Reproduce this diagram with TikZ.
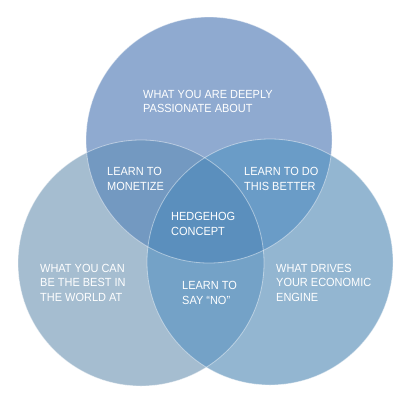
\documentclass[tikz,border=0pt]{standalone}
\usepackage{fontspec}
\setmainfont{Liberation Sans}[FakeStretch=0.93]
\definecolor{cTop}{HTML}{8FAAD0}
\definecolor{cLeft}{HTML}{A5BDD0}
\definecolor{cRight}{HTML}{93B6D1}
\definecolor{cTL}{HTML}{7399C1}
\definecolor{cTR}{HTML}{6A9CC7}
\definecolor{cLR}{HTML}{74A2C7}
\definecolor{cAll}{HTML}{5B8FBD}
\tikzset{
  lbl/.style={anchor=north west, inner sep=0pt, align=left, text=white,
    font=\fontsize{11.8}{14.5}\selectfont},
  rim/.style={draw=white, draw opacity=0.45, line width=0.8pt}
}
\begin{document}
\begin{tikzpicture}[x=1pt,y=-1pt]
\useasboundingbox (0,0) rectangle (412,407);
\fill[white] (0,0) rectangle (412,407);
\def\topc{(209,140) circle (123)}
\def\leftc{(141,263) circle (123)}
\def\rightc{(270,262) circle (123)}
\fill[cLeft] \leftc;
\fill[cRight] \rightc;
\fill[cTop] \topc;
\begin{scope}\clip \topc; \fill[cTL] \leftc; \end{scope}
\begin{scope}\clip \topc; \fill[cTR] \rightc; \end{scope}
\begin{scope}\clip \leftc; \fill[cLR] \rightc; \end{scope}
\begin{scope}\clip \topc; \clip \leftc; \fill[cAll] \rightc; \end{scope}
\draw[rim] \leftc;
\draw[rim] \rightc;
\draw[rim] \topc;
\node[lbl] (passion) at (143,90) {WHAT YOU ARE DEEPLY\\PASSIONATE ABOUT};
\node[lbl] (monetize) at (107,167.5) {LEARN TO\\MONETIZE};
\node[lbl] (better) at (244,167.5) {LEARN TO DO\\THIS BETTER};
\node[lbl] (hedgehog) at (171,212.5) {HEDGEHOG\\CONCEPT};
\node[lbl] (best) at (40,264) {WHAT YOU CAN\\BE THE BEST IN\\THE WORLD AT};
\node[lbl] (sayno) at (182,281.5) {LEARN TO\\SAY “NO”};
\node[lbl] (engine) at (276,264) {WHAT DRIVES\\YOUR ECONOMIC\\ENGINE};
\end{tikzpicture}
\end{document}
